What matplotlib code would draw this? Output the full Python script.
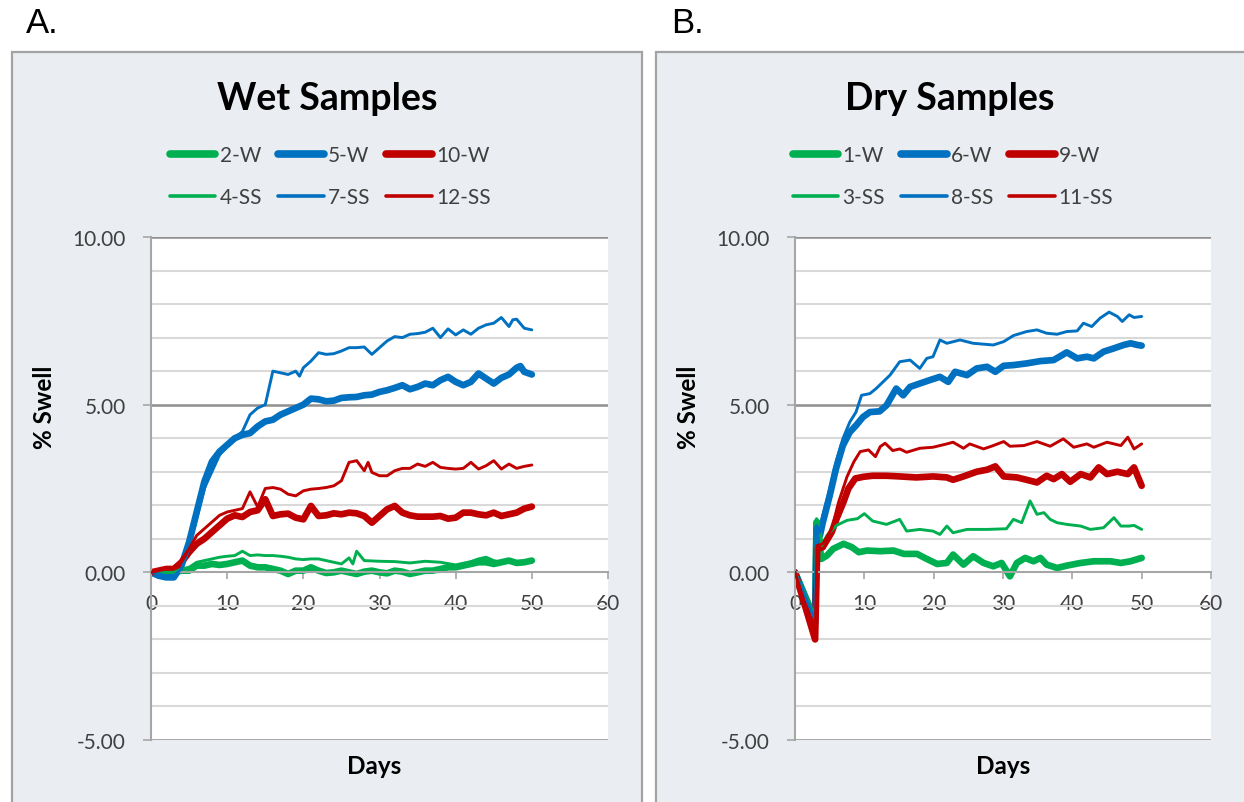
import matplotlib
matplotlib.use("Agg")
import matplotlib.pyplot as plt
from matplotlib.patches import Rectangle
from matplotlib.lines import Line2D
from matplotlib.ticker import MultipleLocator, FixedLocator, FuncFormatter

plt.rcParams['font.family'] = ['Lato', 'DejaVu Sans']

GREEN = '#00b050'
BLUE = '#0070c0'
RED = '#c00000'

# ---------------- Wet samples ----------------
w2_days = [0, 1, 2, 3, 4, 5, 6, 7, 8, 9, 10, 11, 12, 13, 14, 15, 16, 17, 18, 19, 20,
           21, 22, 23, 24, 25, 26, 27, 28, 29, 30, 31, 32, 33, 34, 35, 36, 37, 38, 39, 40,
           41, 42, 43, 44, 45, 46, 47, 48, 49, 50]
w2_vals = [0.0, 0.0, 0.0, 0.0, 0.05, 0.05, 0.2, 0.2, 0.25, 0.22, 0.25, 0.3, 0.35, 0.2, 0.15,
           0.15, 0.1, 0.05, -0.05, 0.05, 0.05, 0.15, 0.05, -0.02, 0.0, 0.05, 0.0, -0.05, 0.02,
           0.05, 0.0, -0.03, 0.05, 0.02, -0.05, 0.0, 0.05, 0.05, 0.1, 0.15, 0.15, 0.2, 0.25,
           0.3, 0.3, 0.25, 0.3, 0.35, 0.28, 0.3, 0.35]

ss4_days = [0, 3, 4, 5, 6, 7, 8, 9, 10, 11, 12, 13, 14, 15, 16, 17, 18, 19, 20, 21, 22, 23,
            24, 25, 26, 26.5, 27, 28, 30, 32, 34, 36, 38, 40, 42, 43, 44, 45, 46, 47, 48, 49, 50]
ss4_vals = [0.0, 0.0, 0.1, 0.15, 0.3, 0.35, 0.4, 0.45, 0.48, 0.5, 0.63, 0.5, 0.52, 0.5, 0.5,
            0.48, 0.45, 0.4, 0.38, 0.4, 0.4, 0.35, 0.3, 0.25, 0.43, 0.25, 0.63, 0.35, 0.33,
            0.32, 0.28, 0.33, 0.3, 0.22, 0.32, 0.4, 0.45, 0.35, 0.3, 0.38, 0.32, 0.3, 0.38]

w5_days = [0, 1, 2, 3, 4, 5, 6, 7, 8, 9, 10, 11, 12, 13, 14, 15, 16, 17, 18, 19, 20, 21, 22,
           23, 24, 25, 26, 27, 28, 29, 30, 31, 32, 33, 34, 35, 36, 37, 38, 39, 40, 41, 42,
           43, 44, 45, 46, 47, 48, 48.5, 49, 50]
w5_vals = [0.0, -0.1, -0.15, -0.15, 0.2, 0.9, 1.8, 2.7, 3.3, 3.6, 3.8, 4.0, 4.1, 4.15, 4.35,
           4.5, 4.55, 4.7, 4.8, 4.9, 5.0, 5.18, 5.16, 5.1, 5.12, 5.2, 5.22, 5.23, 5.28, 5.3,
           5.38, 5.43, 5.5, 5.58, 5.46, 5.53, 5.63, 5.58, 5.73, 5.83, 5.68, 5.58, 5.68, 5.93,
           5.78, 5.63, 5.8, 5.9, 6.1, 6.15, 5.98, 5.9]

ss7_days = [0, 1, 2, 3, 4, 5, 7, 9, 11, 12, 13, 14, 15, 16, 17, 18, 19, 19.5, 20, 21, 22,
            23, 24, 25, 26, 27, 28, 29, 30, 31, 32, 33, 34, 35, 36, 37, 38, 39, 40, 41, 42,
            43, 44, 45, 46, 47, 47.5, 48, 49, 50]
ss7_vals = [0.0, -0.05, -0.1, -0.1, 0.1, 0.7, 2.5, 3.5, 4.0, 4.2, 4.7, 4.9, 5.0, 6.0, 5.95,
            5.9, 6.0, 5.85, 6.1, 6.3, 6.55, 6.5, 6.52, 6.6, 6.7, 6.7, 6.72, 6.5, 6.7, 6.9,
            7.03, 7.0, 7.1, 7.12, 7.16, 7.28, 7.0, 7.26, 7.08, 7.23, 7.1, 7.28, 7.38, 7.43,
            7.6, 7.33, 7.53, 7.55, 7.28, 7.23]

w10_days = [0, 1, 2, 3, 4, 5, 6, 7, 8, 9, 10, 11, 12, 13, 14, 15, 16, 17, 18, 19, 20, 21,
            22, 23, 24, 25, 26, 27, 28, 29, 30, 31, 32, 33, 34, 35, 36, 37, 38, 39, 40, 41,
            42, 43, 44, 45, 46, 47, 48, 49, 50]
w10_vals = [0.0, 0.05, 0.1, 0.1, 0.3, 0.6, 0.85, 1.0, 1.2, 1.4, 1.6, 1.7, 1.65, 1.8, 1.85,
            2.18, 1.68, 1.73, 1.75, 1.63, 1.58, 1.98, 1.68, 1.7, 1.76, 1.73, 1.78, 1.76,
            1.68, 1.48, 1.68, 1.88, 1.98, 1.78, 1.7, 1.66, 1.66, 1.66, 1.68, 1.6, 1.63, 1.78,
            1.78, 1.73, 1.7, 1.78, 1.68, 1.73, 1.78, 1.9, 1.96]

ss12_days = [0, 1, 2, 3, 4, 5, 6, 7, 8, 9, 10, 11, 12, 13, 14, 15, 16, 17, 18, 19, 20, 21,
             22, 23, 24, 25, 26, 27, 28, 28.5, 29, 30, 31, 32, 33, 34, 35, 36, 37, 38, 39,
             40, 41, 42, 43, 44, 45, 46, 47, 48, 49, 50]
ss12_vals = [0.0, 0.05, 0.1, 0.15, 0.3, 0.7, 1.1, 1.3, 1.5, 1.7, 1.8, 1.85, 1.9, 2.4, 1.95,
             2.5, 2.53, 2.48, 2.33, 2.28, 2.43, 2.48, 2.5, 2.53, 2.58, 2.73, 3.28, 3.33, 3.03,
             3.28, 2.98, 2.88, 2.88, 3.03, 3.1, 3.1, 3.23, 3.16, 3.28, 3.13, 3.1, 3.08, 3.1,
             3.28, 3.08, 3.18, 3.33, 3.08, 3.23, 3.1, 3.16, 3.2]

# ---------------- Dry samples ----------------
w1_days = [0, 2.9, 3.1, 3.8, 4.6, 5.5, 7, 8.2, 9.2, 10.4, 12.3, 14.2, 15.7, 17.6, 19, 20.5,
           21.9, 22.8, 24.3, 25.7, 27.2, 28.6, 29.8, 31, 32, 33.2, 34.4, 35.4, 36.3, 37.8,
           39.2, 41.2, 43.1, 45.5, 47, 48.4, 50]
w1_vals = [0.0, -1.4, 1.5, 0.4, 0.5, 0.7, 0.85, 0.75, 0.6, 0.65, 0.63, 0.65, 0.55, 0.55,
           0.4, 0.25, 0.28, 0.53, 0.23, 0.48, 0.28, 0.18, 0.28, -0.12, 0.28, 0.43, 0.33,
           0.43, 0.23, 0.13, 0.2, 0.28, 0.33, 0.33, 0.28, 0.33, 0.43]

ss3_days = [0, 2.9, 3.1, 3.5, 3.9, 4.6, 6, 7.5, 9, 10, 11.2, 13.2, 15.1, 16.1, 18, 19.9,
            20.9, 21.9, 22.8, 24.8, 27.7, 30.5, 31.5, 32.7, 33.9, 34.9, 35.9, 36.8, 37.8,
            39.2, 41.2, 42.6, 44.5, 46, 47, 48.2, 48.9, 50]
ss3_vals = [0.0, -1.3, 1.6, 1.5, 0.8, 1.1, 1.4, 1.55, 1.6, 1.75, 1.53, 1.43, 1.58, 1.23,
            1.28, 1.23, 1.13, 1.38, 1.18, 1.28, 1.28, 1.3, 1.58, 1.48, 2.13, 1.73, 1.78,
            1.58, 1.48, 1.43, 1.38, 1.28, 1.33, 1.63, 1.38, 1.38, 1.4, 1.28]

w6_days = [0, 2.9, 3.1, 3.6, 4, 5, 5.9, 6.9, 7.9, 8.8, 9.8, 10.8, 12.2, 13.2, 14.6, 15.6,
           16.6, 18, 19.4, 20.9, 22.1, 23.1, 24.8, 26.2, 27.7, 28.9, 30.1, 31.5, 33.4, 35.4,
           37.3, 39.2, 40.7, 42.1, 43.1, 44.5, 46, 47.4, 48.4, 49.4, 50]
w6_vals = [0.0, -1.5, 1.3, 1.1, 1.48, 2.28, 3.08, 3.78, 4.18, 4.38, 4.63, 4.78, 4.8, 4.98,
           5.48, 5.28, 5.53, 5.63, 5.73, 5.83, 5.68, 5.98, 5.88, 6.08, 6.13, 5.98, 6.16,
           6.18, 6.23, 6.3, 6.33, 6.56, 6.38, 6.43, 6.38, 6.58, 6.68, 6.78, 6.83, 6.78, 6.76]

ss8_days = [0, 2.9, 3.1, 3.6, 4, 5, 5.9, 6.9, 7.9, 8.8, 9.6, 10.8, 11.7, 12.7, 13.7, 15.1,
            16.6, 18, 19, 19.9, 20.9, 21.9, 23.8, 25.7, 28.6, 30.1, 31.5, 33.4, 34.9, 36.3,
            37.8, 39.2, 40.7, 41.6, 42.8, 44, 45.3, 46.5, 47.2, 48.2, 48.9, 50]
ss8_vals = [0.0, -1.4, 1.4, 1.2, 1.68, 2.48, 3.28, 3.98, 4.48, 4.78, 5.28, 5.33, 5.48, 5.68,
            5.88, 6.28, 6.33, 6.08, 6.38, 6.43, 6.93, 6.83, 6.93, 6.83, 6.78, 6.88, 7.06,
            7.18, 7.23, 7.13, 7.1, 7.18, 7.2, 7.43, 7.33, 7.58, 7.76, 7.63, 7.48, 7.68, 7.6,
            7.63]

w9_days = [0, 2.9, 3.2, 4, 5.3, 6, 7, 7.7, 8.7, 9.9, 11.2, 13.2, 15.1, 17.5, 19.9, 21.9,
           22.8, 24.3, 26.2, 27.7, 28.9, 30.1, 32, 33.4, 34.9, 36.3, 37.3, 38.5, 39.7, 41.2,
           42.6, 43.8, 45, 46.5, 48, 48.9, 49.4, 50]
w9_vals = [0.0, -2.0, 0.7, 0.75, 1.2, 1.6, 2.1, 2.5, 2.8, 2.85, 2.88, 2.88, 2.86, 2.83,
           2.86, 2.83, 2.76, 2.86, 3.0, 3.06, 3.16, 2.86, 2.83, 2.76, 2.68, 2.88, 2.78, 2.93,
           2.7, 2.93, 2.83, 3.13, 2.93, 3.0, 2.93, 3.13, 2.88, 2.58]

ss11_days = [0, 2.9, 3.2, 4, 5.3, 6.3, 7.5, 8.5, 9.4, 10.6, 11.6, 12.3, 13, 14.1, 15.1, 16.1,
             18, 19.9, 21.9, 22.8, 24.3, 25.2, 27.2, 28.6, 30.1, 31, 33, 34.9, 36.8, 38.7,
             40.2, 42.1, 43.1, 45, 47, 48, 48.9, 50]
ss11_vals = [0.0, -1.9, 0.8, 0.85, 1.3, 2.1, 2.85, 3.3, 3.6, 3.65, 3.45, 3.75, 3.85, 3.63,
             3.68, 3.58, 3.7, 3.73, 3.83, 3.88, 3.7, 3.83, 3.68, 3.78, 3.9, 3.76, 3.78, 3.9,
             3.76, 3.98, 3.73, 3.83, 3.73, 3.88, 3.78, 4.03, 3.68, 3.83]

panels = [
    {
        'letter': 'A.', 'title': 'Wet Samples',
        'series': [('2-W', w2_days, w2_vals, GREEN, True),
                   ('4-SS', ss4_days, ss4_vals, GREEN, False),
                   ('5-W', w5_days, w5_vals, BLUE, True),
                   ('7-SS', ss7_days, ss7_vals, BLUE, False),
                   ('10-W', w10_days, w10_vals, RED, True),
                   ('12-SS', ss12_days, ss12_vals, RED, False)],
    },
    {
        'letter': 'B.', 'title': 'Dry Samples',
        'series': [('1-W', w1_days, w1_vals, GREEN, True),
                   ('3-SS', ss3_days, ss3_vals, GREEN, False),
                   ('6-W', w6_days, w6_vals, BLUE, True),
                   ('8-SS', ss8_days, ss8_vals, BLUE, False),
                   ('9-W', w9_days, w9_vals, RED, True),
                   ('11-SS', ss11_days, ss11_vals, RED, False)],
    },
]

W, H = 1244, 803
fig = plt.figure(figsize=(W / 100, H / 100), dpi=100)

PANEL_BG = '#eaeef2'
PANEL_EDGE = '#a3a3a3'
TEXT = '#404040'


def fx(px):
    return px / W


def fy(py):
    return 1 - py / H


# pixel geometry of the two chart frames
frames = [
    dict(box=(12, 53, 642, 806), axes=(151, 238, 608, 741), letter_x=26, title_x=327,
         legend_x=330, ylabel_x=44, xlabel_x=374),
    dict(box=(656, 53, 1250, 806), axes=(795, 238, 1211, 741), letter_x=671, title_x=950,
         legend_x=953, ylabel_x=689, xlabel_x=1003),
]

for panel, fr in zip(panels, frames):
    bx0, by0, bx1, by1 = fr['box']
    fig.patches.append(Rectangle((fx(bx0), fy(by1)), fx(bx1 - bx0), (by1 - by0) / H,
                                 transform=fig.transFigure, facecolor=PANEL_BG,
                                 edgecolor=PANEL_EDGE, linewidth=1.6, zorder=-5))
    fig.text(fx(fr['letter_x']), fy(33), panel['letter'], family='Liberation Sans',
             fontsize=25, color='black', ha='left', va='baseline')
    fig.text(fx(fr['title_x']), fy(110), panel['title'], fontsize=27, fontweight='bold',
             color='black', ha='center', va='baseline')

    ax0, ay0, ax1, ay1 = fr['axes']
    ax = fig.add_axes([fx(ax0), fy(ay1), fx(ax1 - ax0), (ay1 - ay0) / H])
    ax.set_facecolor('white')
    ax.set_xlim(0, 60)
    ax.set_ylim(-5, 10)

    # gridlines: light every 1 %, darker every 5 %
    ax.yaxis.set_major_locator(FixedLocator([-5, 0, 5, 10]))
    ax.yaxis.set_minor_locator(MultipleLocator(1))
    ax.grid(which='minor', axis='y', color='#d9d9d9', linewidth=1.5, zorder=0)
    for v in (5, 10, -5):
        ax.axhline(v, color='#8f8f8f', linewidth=1.8, zorder=1)
    ax.set_axisbelow(True)

    for s in ('top', 'right'):
        ax.spines[s].set_visible(False)
    ax.spines['left'].set_color('#a6a6a6')
    ax.spines['left'].set_linewidth(1.5)
    ax.spines['bottom'].set_position(('data', 0))
    ax.spines['bottom'].set_color('#a6a6a6')
    ax.spines['bottom'].set_linewidth(1.5)

    ax.xaxis.set_major_locator(MultipleLocator(10))
    ax.tick_params(axis='x', which='major', direction='out', length=5, width=1.2,
                   color='#a6a6a6', pad=10, labelsize=15, labelcolor=TEXT)
    ax.tick_params(axis='y', which='major', direction='out', length=6, width=1.2,
                   color='#a6a6a6', pad=12, labelsize=15, labelcolor=TEXT)
    ax.tick_params(axis='y', which='minor', length=0)
    ax.yaxis.set_major_formatter(FuncFormatter(lambda v, p: f'{v:.2f}'))

    ax.set_xlabel('Days', fontsize=17.5, fontweight='bold', color='black', va='center')
    ax.xaxis.set_label_coords(fx(fr['xlabel_x']), fy(767), transform=fig.transFigure)
    ax.set_ylabel('% Swell', fontsize=17.5, fontweight='bold', color='black', va='center',
                  ha='center')
    ax.yaxis.set_label_coords(fx(fr['ylabel_x']), fy(407), transform=fig.transFigure)

    handles = []
    for name, days, vals, color, thick in panel['series']:
        lw = 4.8 if thick else 2.1
        ax.plot(days, vals, color=color, linewidth=lw, solid_joinstyle='round',
                solid_capstyle='round', zorder=3 if not thick else 2, label=name)
        handles.append(Line2D([], [], color=color, linewidth=5.5 if thick else 2.6,
                              solid_capstyle='round'))

    leg = fig.legend(handles, [s[0] for s in panel['series']], ncol=3, loc='center',
                     bbox_to_anchor=(fx(fr['legend_x']), fy(177)), frameon=False,
                     fontsize=15, handlelength=2.2, handletextpad=0.2,
                     columnspacing=0.75, labelspacing=1.05, borderpad=0)
    for t in leg.get_texts():
        t.set_color(TEXT)

fig.savefig('out.png', dpi=100, facecolor='white')
